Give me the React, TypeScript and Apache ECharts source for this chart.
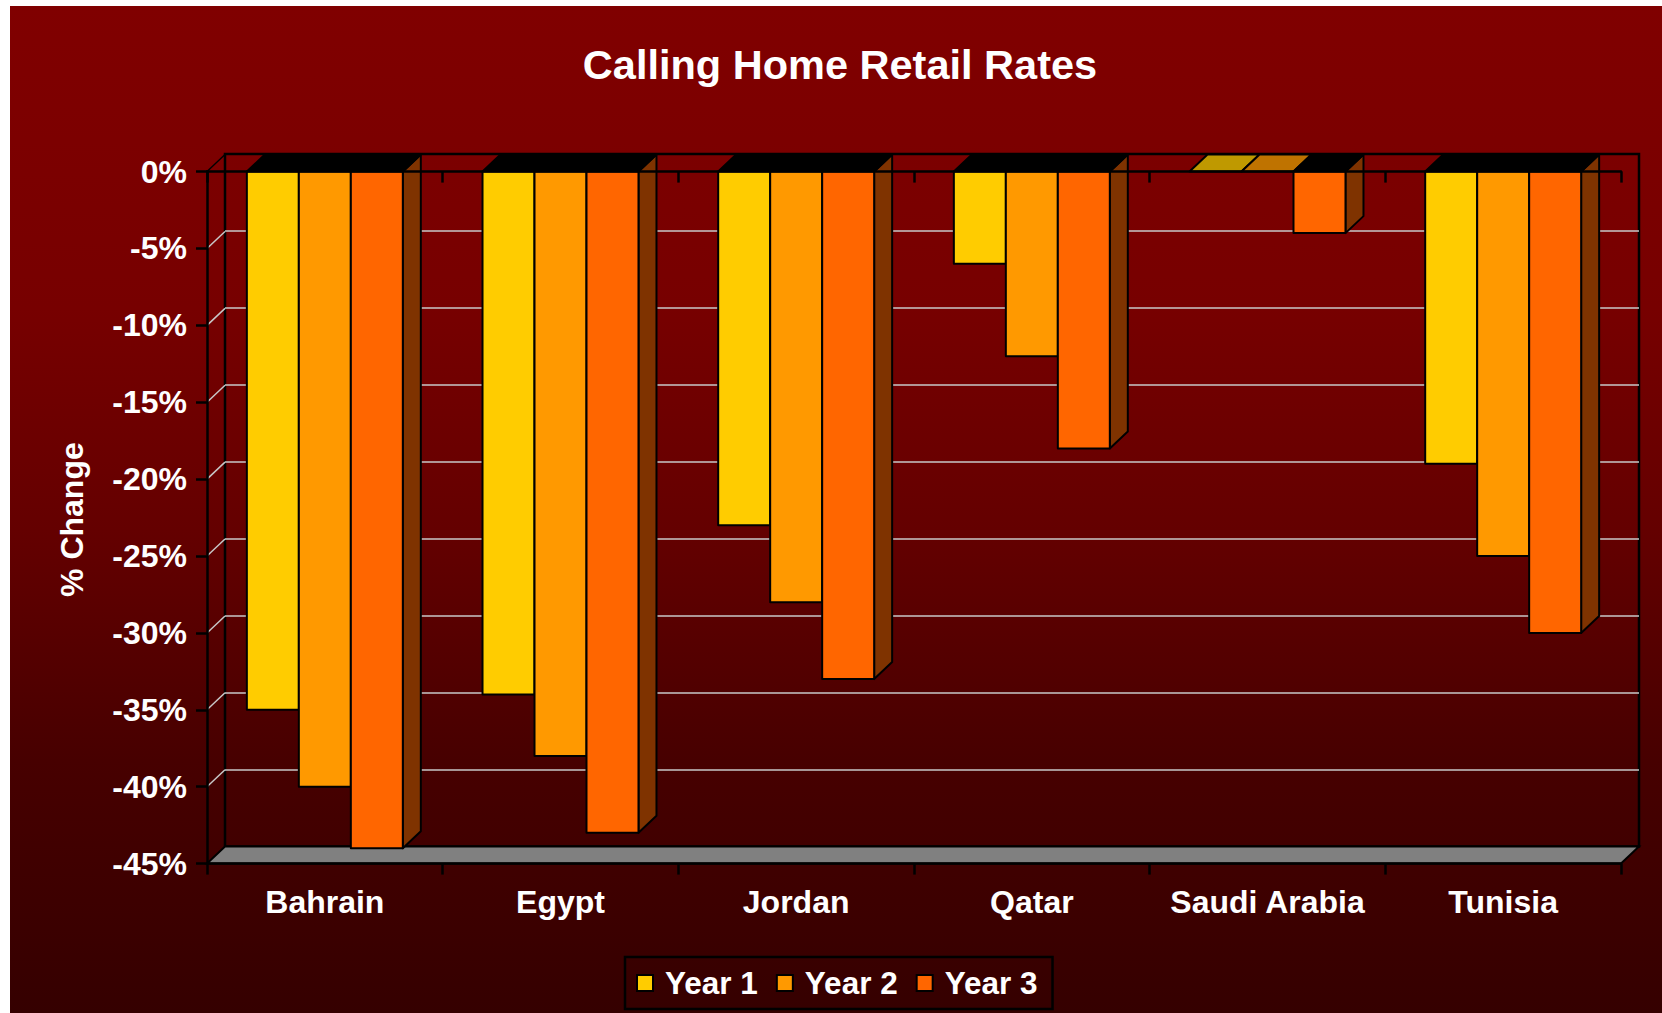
import React, { useEffect, useRef } from "react";
import * as echarts from "echarts";

// Percentage change in retail calling rates, by destination
const categories = ["Bahrain", "Egypt", "Jordan", "Qatar", "Saudi Arabia", "Tunisia"];
const year1 = [-35, -34, -23, -6, 0, -19];
const year2 = [-40, -38, -28, -12, 0, -25];
const year3 = [-44, -43, -33, -18, -4, -30];
const wallTicks = [-5, -10, -15, -20, -25, -30, -35, -40];

const yearColors = ["#FFCC00", "#FF9900", "#FF6600"];
const flatTopColors = ["#BF9900", "#BF7300", "#000000"];
const sideColor = "#7F3300";

const FONT = "'Liberation Sans', Arial, sans-serif";
const DEPTH_X = 18;
const DEPTH_Y = -17;
const LINE = 2;
const plot = { left: 207, top: 171.6, width: 1414, height: 692 };

// A column seen from the front, with its upper face and, for the last year, its right face.
function columnRenderer(seriesIndex: number) {
  return (_params: any, api: any) => {
    const cat = api.value(0);
    const value = api.value(1);
    const [center, zeroY] = api.coord([cat, 0]);
    const [, endY] = api.coord([cat, value]);
    const band = api.size([1, 0])[0];
    const w = band * 0.2206;
    const x0 = center - 1.5 * w + seriesIndex * w;
    const x1 = x0 + w;
    const stroke = { stroke: "#000", lineWidth: LINE, lineJoin: "round" };
    const children: any[] = [];
    if (seriesIndex === 2) {
      children.push({
        type: "polygon",
        shape: { points: [[x1, zeroY], [x1 + DEPTH_X, zeroY + DEPTH_Y], [x1 + DEPTH_X, endY + DEPTH_Y], [x1, endY]] },
        style: { fill: sideColor, ...stroke },
      });
    }
    children.push({
      type: "polygon",
      shape: { points: [[x0, zeroY], [x0 + DEPTH_X, zeroY + DEPTH_Y], [x1 + DEPTH_X, zeroY + DEPTH_Y], [x1, zeroY]] },
      style: { fill: value === 0 ? flatTopColors[seriesIndex] : "#000", ...stroke },
    });
    if (value !== 0) {
      children.push({
        type: "rect",
        shape: { x: x0, y: zeroY, width: w, height: endY - zeroY },
        style: { fill: yearColors[seriesIndex], ...stroke },
      });
    }
    return { type: "group", children };
  };
}

// Grey floor, and the short joins from the front plane to the back wall.
function frameRenderer(params: any, api: any) {
  const sys = params.coordSys;
  const value = api.value(1);
  const y = api.coord([0, value])[1];
  const left = sys.x;
  const right = sys.x + sys.width;
  if (value === -45) {
    return {
      type: "polygon",
      shape: { points: [[left, y], [left + DEPTH_X, y + DEPTH_Y], [right + DEPTH_X, y + DEPTH_Y], [right, y]] },
      style: { fill: "#808080", stroke: "#000", lineWidth: LINE },
    };
  }
  return {
    type: "line",
    shape: { x1: left, y1: y, x2: left + DEPTH_X, y2: y + DEPTH_Y },
    style: { stroke: value === 0 ? "#000" : "#c8c8c8", lineWidth: value === 0 ? 1.4 : 1.5 },
  };
}

const whiteBold = { color: "#fff", fontWeight: "bold" as const, fontFamily: FONT, fontSize: 32 };

function buildOption() {
  const yearSeries = [year1, year2, year3].map((values, i) => ({
    type: "custom",
    name: `Year ${i + 1}`,
    z: 3,
    xAxisIndex: 0,
    yAxisIndex: 0,
    itemStyle: { color: yearColors[i] },
    renderItem: columnRenderer(i),
    encode: { x: 0, y: 1 },
    data: values.map((v, c) => [c, v]),
  }));

  return {
    animation: false,
    tooltip: { show: false },
    title: {
      text: "Calling Home Retail Rates",
      left: 835,
      top: 38,
      textAlign: "center",
      textStyle: { ...whiteBold, fontSize: 41.5 },
    },
    legend: {
      left: 625,
      top: 957,
      padding: [10, 15, 10, 11],
      borderColor: "#000",
      borderWidth: 2.5,
      itemWidth: 16,
      itemHeight: 16,
      itemGap: 18,
      selectedMode: false,
      textStyle: { ...whiteBold, fontSize: 31.5, padding: [0, 0, 0, 7] },
      data: yearSeries.map((s, i) => ({
        name: s.name,
        icon: "rect",
        itemStyle: { color: yearColors[i], borderColor: "#000", borderWidth: 2 },
      })),
    },
    grid: [
      { ...plot, containLabel: false },
      {
        left: plot.left + DEPTH_X,
        top: plot.top + DEPTH_Y - 0.6,
        width: plot.width,
        height: plot.height + 0.6,
        show: true,
        backgroundColor: "transparent",
        borderColor: "#000",
        borderWidth: 2.5,
      },
    ],
    xAxis: [
      {
        type: "category",
        gridIndex: 0,
        data: categories,
        position: "bottom",
        z: 5,
        axisLine: { onZero: false, lineStyle: { color: "#000", width: 2.5 } },
        axisTick: { show: true, length: 11, lineStyle: { color: "#000", width: 2.5 } },
        axisLabel: { ...whiteBold, margin: 22, interval: 0 },
      },
      {
        type: "category",
        gridIndex: 0,
        data: categories,
        position: "top",
        z: 5,
        axisLine: { onZero: false, lineStyle: { color: "#000", width: 2.5 } },
        axisTick: { show: true, inside: true, length: 11, lineStyle: { color: "#000", width: 2.5 } },
        axisLabel: { show: false },
      },
      { type: "category", gridIndex: 1, data: categories, show: false },
    ],
    yAxis: [
      {
        type: "value",
        gridIndex: 0,
        min: -45,
        max: 0,
        interval: 5,
        z: 5,
        name: "% Change",
        nameLocation: "middle",
        nameGap: 119,
        nameTextStyle: { ...whiteBold, padding: [0, 4, 0, 0] },
        axisLine: { show: true, lineStyle: { color: "#000", width: 2.5 } },
        axisTick: { show: true, length: 11, lineStyle: { color: "#000", width: 2.5 } },
        axisLabel: { ...whiteBold, margin: 20, padding: [4, 0, 0, 0], formatter: (v: number) => `${v}%` },
        splitLine: { show: false },
      },
      {
        type: "value",
        gridIndex: 1,
        min: -45,
        max: 0,
        interval: 5,
        axisLine: { show: false },
        axisTick: { show: false },
        axisLabel: { show: false },
        splitLine: {
          show: true,
          showMinLine: false,
          showMaxLine: false,
          lineStyle: { color: "#c8c8c8", width: 1.5 },
        },
      },
    ],
    series: [
      {
        type: "custom",
        name: "frame",
        z: 1,
        silent: true,
        xAxisIndex: 0,
        yAxisIndex: 0,
        renderItem: frameRenderer,
        encode: { x: 0, y: 1 },
        data: [-45, 0, ...wallTicks].map((v) => [0, v]),
      },
      ...yearSeries,
    ],
    graphic: [
      {
        type: "rect",
        z: -10,
        silent: true,
        shape: { x: 10, y: 6, width: 1652, height: 1007 },
        style: {
          fill: new echarts.graphic.LinearGradient(0, 0, 0, 1, [
            { offset: 0, color: "#800000" },
            { offset: 0.3, color: "#770000" },
            { offset: 0.52, color: "#640000" },
            { offset: 0.75, color: "#470000" },
            { offset: 1, color: "#350000" },
          ]),
        },
      },
    ],
  };
}

export default function App() {
  const ref = useRef<HTMLDivElement>(null);
  useEffect(() => {
    document.body.style.margin = "0";
    const chart = echarts.init(ref.current!, undefined, { renderer: "svg" });
    chart.setOption(buildOption() as any);
    return () => chart.dispose();
  }, []);
  return (
    <div
      ref={ref}
      style={{ position: "fixed", left: 0, top: 0, width: 1662, height: 1013, background: "#fff" }}
    />
  );
}
